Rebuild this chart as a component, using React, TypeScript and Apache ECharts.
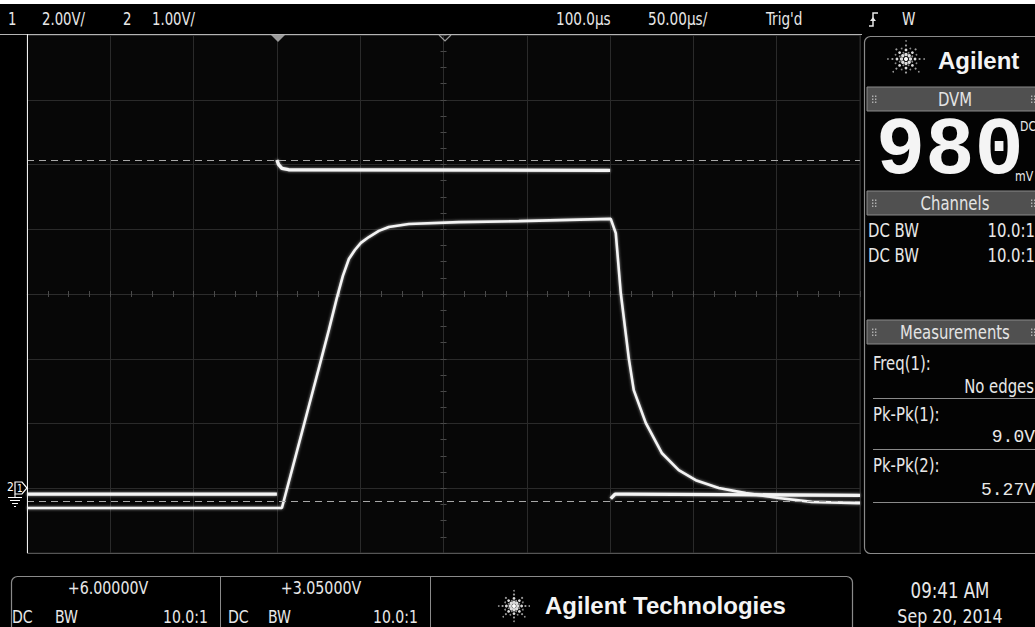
import React, { useEffect, useRef } from "react";
import * as echarts from "echarts";

// ---- Timebase (µs) : 50 µs/div, delay 100 µs, 10 divisions ----
const timeMin = -150;
const timeMax = 350;
const timeStep = 50;

// ---- Channel 1 : 2.00 V/div, offset +6.00000 V ----
const ch1Min = -2;
const ch1Max = 14;
const ch1Step = 2;
const ch1Time = [-150, 3.0, 13.2, 19.2, 25.2, 31.2, 36.0, 39.6, 43.2, 46.8, 50.4, 55.2, 61.2, 67.2, 79.2, 109.2, 145.2, 200.4, 203.4, 206.4, 211.2, 214.2, 221.4, 231.0, 241.2, 251.4, 265.2, 281.4, 301.2, 321.0, 350];
const ch1Volts = [-0.61, -0.61, 1.37, 2.54, 3.71, 4.89, 5.88, 6.56, 7.08, 7.36, 7.58, 7.76, 7.95, 8.07, 8.16, 8.22, 8.25, 8.32, 7.88, 6.03, 4.02, 3.03, 2.02, 1.09, 0.56, 0.25, 0.01, -0.15, -0.3, -0.42, -0.46];

// ---- Channel 2 : 1.00 V/div, offset +3.05000 V ----
const ch2Min = -0.95;
const ch2Max = 7.05;
const ch2Time = [-150, 0, 0, 0, 1, 3, 7, 200, 200, 200.4, 203, 210, 350];
const ch2Volts = [-0.04, -0.04, null, 5.12, 5.05, 4.99, 4.97, 4.96, null, -0.11, -0.04, -0.04, -0.06];
const ch2PkMax = 5.12;
const ch2PkMin = -0.15;

// ---- Texts ----
const headerLeft = ["1", "2.00V/", "2", "1.00V/"];
const headerRight = ["100.0µs", "50.00µs/", "Trig'd", "W"];
const dvmReading = "980";
const channelRows = [["DC BW", "10.0:1"], ["DC BW", "10.0:1"]];
const measurements = [["Freq(1):", "No edges"], ["Pk-Pk(1):", "9.0V"], ["Pk-Pk(2):", "5.27V"]];
const bottomOffsets = ["+6.00000V", "+3.05000V"];
const clockLines = ["09:41 AM", "Sep 20, 2014"];

const NARROW = '"Liberation Sans Narrow", "Arial Narrow", "DejaVu Sans Condensed", "Roboto Condensed", Roboto, sans-serif';
const BOLD = '"Liberation Sans", Arial, "DejaVu Sans", sans-serif';
const MONO = '"Liberation Mono", "DejaVu Sans Mono", monospace';
const TXT = "#e8e8e8";

function txt(text: string, x: number, y: number, size: number, opts: any = {}) {
  const align = opts.align || "left";
  const family = opts.family || NARROW;
  return {
    type: "text",
    x,
    y,
    z: 40,
    scaleX: opts.sx !== undefined ? opts.sx : family === NARROW ? 0.87 : 1,
    silent: true,
    style: {
      text,
      fill: opts.fill || TXT,
      fontSize: size,
      fontFamily: family,
      fontWeight: opts.weight || "normal",
      align,
      textAlign: align,
      verticalAlign: opts.valign || "middle",
      textVerticalAlign: opts.valign || "middle",
    },
  };
}

function spark(cx: number, cy: number, r: number) {
  const children: any[] = [];
  const rays = 8;
  for (let i = 0; i < rays; i++) {
    const a = (i * Math.PI * 2) / rays;
    for (let k = 1; k <= 4; k++) {
      const d = (r * k) / 4.2;
      children.push({
        type: "circle",
        z: 40,
        silent: true,
        shape: { cx: cx + Math.cos(a) * d, cy: cy + Math.sin(a) * d, r: Math.max(0.8, 2.0 - k * 0.3) },
        style: { fill: k <= 2 ? "#dcdcdc" : "#9c9c9c" },
      });
    }
    const b = a + Math.PI / 8;
    for (let k = 1; k <= 2; k++) {
      const d = (r * (k + 0.5)) / 4.2;
      children.push({
        type: "circle",
        z: 40,
        silent: true,
        shape: { cx: cx + Math.cos(b) * d, cy: cy + Math.sin(b) * d, r: 0.9 },
        style: { fill: "#8a8a8a" },
      });
    }
  }
  children.push({ type: "circle", z: 40, silent: true, shape: { cx, cy, r: 2 }, style: { fill: "#ffffff" } });
  return { type: "group", z: 40, children };
}

function grip(x: number, cy: number) {
  const children: any[] = [];
  for (let c = 0; c < 2; c++) {
    for (let r = -1; r <= 1; r++) {
      children.push({ type: "rect", z: 41, silent: true, shape: { x: x + c * 3, y: cy + r * 3 - 0.5, width: 1.4, height: 1.4 }, style: { fill: "#b0b0b0" } });
    }
  }
  return { type: "group", z: 41, children };
}

function bar(y: number, label: string) {
  return [
    { type: "rect", z: 30, silent: true, shape: { x: 867, y, width: 175, height: 24 }, style: { fill: "#505050", stroke: "#8a8a8a", lineWidth: 1 } },
    txt(label, 955, y + 12.5, 19, { align: "center", fill: "#e4e4e4" }),
    grip(872, y + 12),
    grip(1031, y + 12),
  ];
}

function hline(x1: number, x2: number, y: number, color: string, z = 35, width = 1) {
  return { type: "line", z, silent: true, shape: { x1, y1: y, x2, y2: y }, style: { stroke: color, lineWidth: width } };
}
function vline(x: number, y1: number, y2: number, color: string, z = 35, width = 1) {
  return { type: "line", z, silent: true, shape: { x1: x, y1, x2: x, y2 }, style: { stroke: color, lineWidth: width } };
}

function centerAxisX(inside: boolean) {
  return {
    type: "value",
    min: -5,
    max: 5,
    interval: 1,
    axisLine: { show: true, onZero: true, onZeroAxisIndex: 2, lineStyle: { color: "#2c2c2c", width: 1 } },
    axisTick: { show: true, inside, length: 3, lineStyle: { color: "#4a4a4a" } },
    minorTick: { show: true, splitNumber: 4, length: 3, lineStyle: { color: "#4a4a4a" } },
    axisLabel: { show: false },
    splitLine: { show: false },
  };
}
function centerAxisY(inside: boolean) {
  return {
    type: "value",
    min: -4,
    max: 4,
    interval: 1,
    position: "left",
    axisLine: { show: true, onZero: true, onZeroAxisIndex: 1, lineStyle: { color: "#2c2c2c", width: 1 } },
    axisTick: { show: true, inside, length: 3, lineStyle: { color: "#4a4a4a" } },
    minorTick: { show: true, splitNumber: 4, length: 3, lineStyle: { color: "#4a4a4a" } },
    axisLabel: { show: false },
    splitLine: { show: false },
  };
}

export default function App() {
  const ref = useRef<HTMLDivElement | null>(null);

  useEffect(() => {
    document.body.style.margin = "0";
    document.body.style.background = "#000";
    if (!ref.current) return;
    const chart = echarts.init(ref.current, null, { renderer: "svg" });

    const ch1Data = ch1Time.map((t, i) => [t, ch1Volts[i]]);
    const ch2Data = ch2Time.map((t, i) => [t, ch2Volts[i] === null ? "-" : ch2Volts[i]]);

    const lineBase = { type: "line", symbol: "none", showSymbol: false, silent: true, connectNulls: false, clip: true };
    const traceStyle = { color: "#f4f4f4", width: 2.6, shadowColor: "rgba(220,220,220,0.7)", shadowBlur: 3 };

    const graphics: any[] = [
      // top white strip (cropped e-mail header)
      { type: "rect", z: 45, silent: true, shape: { x: 0, y: 0, width: 1035, height: 4 }, style: { fill: "#ffffff" } },
      // header texts
      txt(headerLeft[0], 8, 19, 18, { sx: 0.82 }),
      txt(headerLeft[1], 42, 19, 18, { sx: 0.82 }),
      txt(headerLeft[2], 123, 19, 18, { sx: 0.82 }),
      txt(headerLeft[3], 152, 19, 18, { sx: 0.82 }),
      txt(headerRight[0], 556, 19, 18, { sx: 0.84 }),
      txt(headerRight[1], 648, 19, 18, { sx: 0.84 }),
      txt(headerRight[2], 766, 19, 18, { sx: 0.84 }),
      txt(headerRight[3], 902, 19, 18, { sx: 0.84 }),
      // trigger slope icon
      { type: "polyline", z: 40, silent: true, shape: { points: [[869, 26], [873, 26], [873, 13], [878, 13]] }, style: { stroke: TXT, lineWidth: 1.5, fill: "none" } },
      { type: "polygon", z: 40, silent: true, shape: { points: [[870, 21], [876, 21], [873, 17]] }, style: { fill: TXT } },
      // grid frame
      hline(0, 862, 34.5, "#b4b4b4"),
      vline(27.5, 34, 553, "#f0f0f0"),
      hline(27, 861, 553.5, "#555"),
      // top markers
      { type: "polygon", z: 40, silent: true, shape: { points: [[271, 35], [285, 35], [278, 42]] }, style: { fill: "#9a9a9a" } },
      { type: "polyline", z: 40, silent: true, shape: { points: [[439, 35], [445, 41], [451, 35]] }, style: { stroke: "#9a9a9a", lineWidth: 1.2, fill: "none" } },
      // ground markers at left
      txt("2", 7, 487, 12, { fill: "#fff", sx: 1 }),
      { type: "polygon", z: 40, silent: true, shape: { points: [[15, 482], [22, 482], [27, 488], [22, 494], [15, 494]] }, style: { fill: "none", stroke: "#fff", lineWidth: 1.2 } },
      txt("1", 17, 488, 10, { fill: "#fff", sx: 1 }),
      hline(8, 22, 497.5, "#fff", 40),
      hline(10, 20, 500.5, "#fff", 40),
      hline(12, 18, 503.5, "#fff", 40),
      hline(14, 16, 506.5, "#fff", 40),
      vline(15, 494, 498, "#fff", 40),
      // right panel
      { type: "rect", z: 20, silent: true, shape: { x: 864.5, y: 36.5, width: 190, height: 517, r: 6 }, style: { fill: "#030303", stroke: "#8a8a8a", lineWidth: 1.2 } },
      spark(906, 59, 19),
      txt("Agilent", 938, 60, 24, { family: BOLD, weight: "bold", fill: "#f4f4f4" }),
      ...bar(87, "DVM"),
      txt(dvmReading, 876, 151, 82, { family: MONO, weight: "bold", fill: "#f4f4f4" }),
      txt("DC", 1020, 126, 14),
      txt("mV", 1015, 176, 14),
      ...bar(191, "Channels"),
      txt(channelRows[0][0], 868, 230, 19),
      txt(channelRows[0][1], 1035, 230, 19, { align: "right" }),
      txt(channelRows[1][0], 868, 255, 19),
      txt(channelRows[1][1], 1035, 255, 19, { align: "right" }),
      ...bar(320, "Measurements"),
      txt(measurements[0][0], 873, 363, 19),
      txt(measurements[0][1], 1034, 386, 19, { align: "right" }),
      hline(873, 1035, 398.5, "#8a8a8a"),
      txt(measurements[1][0], 873, 414, 19),
      txt(measurements[1][1], 1035, 437, 18, { align: "right", family: MONO }),
      hline(873, 1035, 449.5, "#8a8a8a"),
      txt(measurements[2][0], 873, 465, 19),
      txt(measurements[2][1], 1035, 490, 18, { align: "right", family: MONO }),
      hline(873, 1035, 502.5, "#8a8a8a"),
      // bottom status box
      { type: "rect", z: 20, silent: true, shape: { x: 11.5, y: 576.5, width: 841, height: 80, r: 6 }, style: { fill: "#000", stroke: "#8a8a8a", lineWidth: 1.2 } },
      vline(220.5, 577, 627, "#8a8a8a"),
      vline(430.5, 577, 627, "#8a8a8a"),
      txt(bottomOffsets[0], 108, 588, 18, { align: "center", sx: 0.88 }),
      txt("DC", 12, 617, 18),
      txt("BW", 55, 617, 18),
      txt("10.0:1", 208, 617, 18, { align: "right" }),
      txt(bottomOffsets[1], 321, 588, 18, { align: "center", sx: 0.88 }),
      txt("DC", 228, 617, 18),
      txt("BW", 268, 617, 18),
      txt("10.0:1", 418, 617, 18, { align: "right" }),
      spark(514, 606, 16),
      txt("Agilent Technologies", 545, 605, 24, { family: BOLD, weight: "bold", fill: "#f4f4f4" }),
      txt(clockLines[0], 950, 591, 21, { align: "center", sx: 0.88 }),
      txt(clockLines[1], 950, 616, 20, { align: "center", sx: 0.88 }),
    ];

    const option: any = {
      animation: false,
      backgroundColor: "#000",
      grid: { left: 27, top: 35, width: 833, height: 518, show: true, backgroundColor: "#070707", borderColor: "#2c2c2c", borderWidth: 1, containLabel: false },
      xAxis: [
        {
          type: "value",
          min: timeMin,
          max: timeMax,
          interval: timeStep,
          axisLine: { show: false },
          axisTick: { show: false },
          axisLabel: { show: false },
          splitLine: { show: true, lineStyle: { color: "#2a2a2a", width: 1 } },
        },
        { type: "value", min: -5, max: 5, show: false },
        centerAxisX(false),
        centerAxisX(true),
      ],
      yAxis: [
        {
          type: "value",
          min: ch1Min,
          max: ch1Max,
          interval: ch1Step,
          axisLine: { show: false },
          axisTick: { show: false },
          axisLabel: { show: false },
          splitLine: { show: true, lineStyle: { color: "#2a2a2a", width: 1 } },
        },
        { type: "value", min: ch2Min, max: ch2Max, show: false, splitLine: { show: false } },
        { type: "value", min: -4, max: 4, show: false, splitLine: { show: false } },
        centerAxisY(false),
        centerAxisY(true),
      ],
      series: [
        { ...lineBase, name: "ch1", xAxisIndex: 0, yAxisIndex: 0, data: ch1Data, z: 4, lineStyle: traceStyle },
        {
          ...lineBase,
          name: "ch2",
          xAxisIndex: 0,
          yAxisIndex: 1,
          data: ch2Data,
          z: 4,
          lineStyle: { ...traceStyle, width: 3.4 },
          markLine: {
            silent: true,
            symbol: "none",
            label: { show: false },
            lineStyle: { color: "#a8a8a8", type: [7, 5], width: 1, shadowBlur: 0 },
            data: [{ yAxis: ch2PkMax }, { yAxis: ch2PkMin }],
          },
        },
      ],
      graphic: { elements: graphics },
    };

    chart.setOption(option);
    return () => chart.dispose();
  }, []);

  return <div ref={ref} style={{ position: "absolute", left: 0, top: 0, width: 1035, height: 627, background: "#000" }} />;
}
